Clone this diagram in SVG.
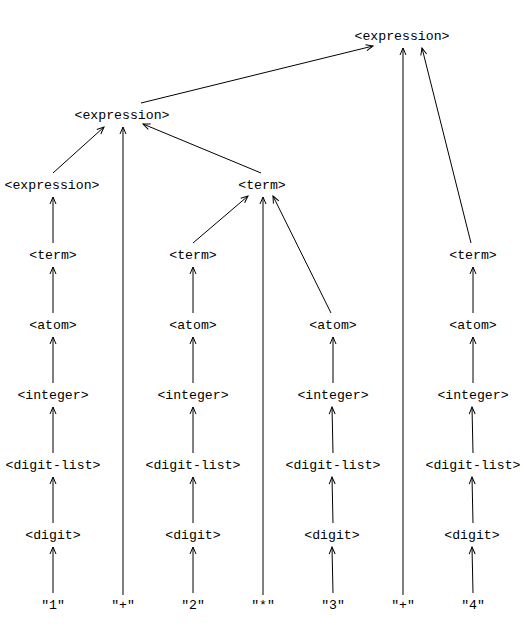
<svg xmlns="http://www.w3.org/2000/svg" width="524" height="638" viewBox="0 0 524 638">
<style>
text{font-family:"Liberation Mono","DejaVu Sans Mono",monospace;font-size:13.2px;fill:#000;text-anchor:middle}
.e{stroke:#000;stroke-width:1;fill:none;marker-end:url(#a)}
</style>
<defs>
<marker id="a" markerUnits="userSpaceOnUse" markerWidth="10" markerHeight="10" refX="8" refY="4" orient="auto">
<path d="M1,1 L8,4 L1,7" fill="none" stroke="#000" stroke-width="1"/>
</marker>
</defs>
<rect width="524" height="638" fill="#fff"/>
<g id="connectors">
<line class="e" x1="141" y1="103" x2="373" y2="46"/>
<line class="e" x1="403" y1="595" x2="403" y2="48"/>
<line class="e" x1="471" y1="243" x2="422" y2="48"/>
<line class="e" x1="53" y1="173" x2="104" y2="127"/>
<line class="e" x1="123" y1="595" x2="123" y2="127"/>
<line class="e" x1="261" y1="173" x2="143" y2="124"/>
<line class="e" x1="53" y1="243" x2="53" y2="197"/>
<line class="e" x1="53" y1="313" x2="53" y2="267"/>
<line class="e" x1="53" y1="383" x2="53" y2="337"/>
<line class="e" x1="53" y1="453" x2="53" y2="407"/>
<line class="e" x1="53" y1="523" x2="53" y2="477"/>
<line class="e" x1="53" y1="593" x2="53" y2="547"/>
<line class="e" x1="193" y1="243" x2="248" y2="196"/>
<line class="e" x1="263" y1="595" x2="263" y2="197"/>
<line class="e" x1="331" y1="313" x2="273" y2="196"/>
<line class="e" x1="193" y1="313" x2="193" y2="267"/>
<line class="e" x1="193" y1="383" x2="193" y2="337"/>
<line class="e" x1="193" y1="453" x2="193" y2="407"/>
<line class="e" x1="193" y1="523" x2="193" y2="477"/>
<line class="e" x1="193" y1="593" x2="193" y2="547"/>
<line class="e" x1="333" y1="383" x2="333" y2="337"/>
<line class="e" x1="333" y1="453" x2="332" y2="407"/>
<line class="e" x1="333" y1="523" x2="332" y2="477"/>
<line class="e" x1="333" y1="593" x2="332" y2="547"/>
<line class="e" x1="473" y1="313" x2="473" y2="267"/>
<line class="e" x1="473" y1="383" x2="473" y2="337"/>
<line class="e" x1="473" y1="453" x2="472" y2="407"/>
<line class="e" x1="473" y1="523" x2="472" y2="477"/>
<line class="e" x1="473" y1="593" x2="472" y2="547"/>
</g>
<g id="n-expr-root"><text x="402" y="40">&lt;expression&gt;</text></g>
<g id="n-expr-2"><text x="122" y="119">&lt;expression&gt;</text></g>
<g id="n-expr-3"><text x="52" y="189">&lt;expression&gt;</text></g>
<g id="n-term-mul"><text x="262" y="189">&lt;term&gt;</text></g>
<g id="n-term-1"><text x="53" y="259">&lt;term&gt;</text></g>
<g id="n-term-2"><text x="193" y="259">&lt;term&gt;</text></g>
<g id="n-term-4"><text x="473" y="259">&lt;term&gt;</text></g>
<g id="n-atom-1"><text x="53" y="329">&lt;atom&gt;</text></g>
<g id="n-atom-2"><text x="193" y="329">&lt;atom&gt;</text></g>
<g id="n-atom-3"><text x="333" y="329">&lt;atom&gt;</text></g>
<g id="n-atom-4"><text x="473" y="329">&lt;atom&gt;</text></g>
<g id="n-int-1"><text x="53" y="399">&lt;integer&gt;</text></g>
<g id="n-int-2"><text x="193" y="399">&lt;integer&gt;</text></g>
<g id="n-int-3"><text x="333" y="399">&lt;integer&gt;</text></g>
<g id="n-int-4"><text x="473" y="399">&lt;integer&gt;</text></g>
<g id="n-dl-1"><text x="53" y="469">&lt;digit-list&gt;</text></g>
<g id="n-dl-2"><text x="193" y="469">&lt;digit-list&gt;</text></g>
<g id="n-dl-3"><text x="333" y="469">&lt;digit-list&gt;</text></g>
<g id="n-dl-4"><text x="473" y="469">&lt;digit-list&gt;</text></g>
<g id="n-d-1"><text x="53" y="539">&lt;digit&gt;</text></g>
<g id="n-d-2"><text x="193" y="539">&lt;digit&gt;</text></g>
<g id="n-d-3"><text x="332" y="539">&lt;digit&gt;</text></g>
<g id="n-d-4"><text x="472" y="539">&lt;digit&gt;</text></g>
<g id="t-1"><text x="53" y="609">"1"</text></g>
<g id="t-plus1"><text x="123" y="609">"+"</text></g>
<g id="t-2"><text x="193" y="609">"2"</text></g>
<g id="t-mul"><text x="263" y="609">"*"</text></g>
<g id="t-3"><text x="333" y="609">"3"</text></g>
<g id="t-plus2"><text x="403" y="609">"+"</text></g>
<g id="t-4"><text x="473" y="609">"4"</text></g>
</svg>
